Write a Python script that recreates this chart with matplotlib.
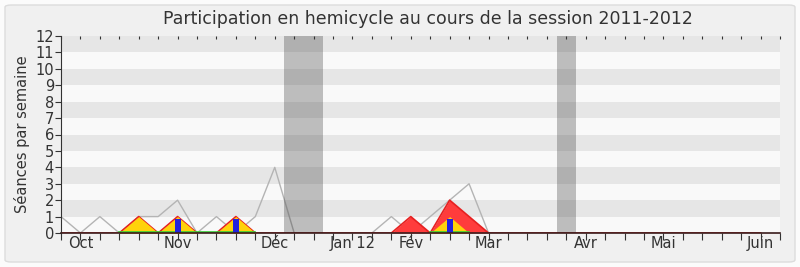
import numpy as np
import matplotlib
matplotlib.use("Agg")
import matplotlib.pyplot as plt
from matplotlib.patches import FancyBboxPatch

# Weekly values, weeks 0..36 of the session (week 0 = last week of September)
weeks = np.arange(37)
ensemble = [1, 0, 1, 0, 1, 1, 2, 0, 1, 0, 1, 4, 0, 0, 0, 0, 0, 1, 0, 1, 2, 3,
            0, 0, 0, 0, 0, 0, 0, 0, 0, 0, 0, 0, 0, 0, 0]
presences = [0, 0, 0, 0, 1, 0, 1, 0, 0, 1, 0, 0, 0, 0, 0, 0, 0, 0, 1, 0, 2, 1,
             0, 0, 0, 0, 0, 0, 0, 0, 0, 0, 0, 0, 0, 0, 0]
hemicycle = [0, 0, 0, 0, 1, 0, 1, 0, 0, 1, 0, 0, 0, 0, 0, 0, 0, 0, 0, 0, 1, 0,
             0, 0, 0, 0, 0, 0, 0, 0, 0, 0, 0, 0, 0, 0, 0]
interventions = [0, 0, 0, 0, 0, 0, 0.85, 0, 0, 0.85, 0, 0, 0, 0, 0, 0, 0, 0, 0, 0,
                 0.85, 0, 0, 0, 0, 0, 0, 0, 0, 0, 0, 0, 0, 0, 0, 0, 0]
vacances = [(11.5, 13.5), (25.5, 26.5)]
month_pos = [1, 6, 11, 15, 18, 22, 27, 31, 36]
month_labels = ["Oct", "Nov", "Déc", "Jan 12", "Fév", "Mar", "Avr", "Mai", "Juin"]

W, H = 800, 267
fig = plt.figure(figsize=(W / 100, H / 100), dpi=100, facecolor="#fbfbfb")
frame = FancyBboxPatch((5 / W, 5 / H), 790 / W, 257 / H,
                       boxstyle="round,pad=0,rounding_size=0.008",
                       transform=fig.transFigure, facecolor="#f0f0f0",
                       edgecolor="#dcdcdc", linewidth=1, zorder=-10)
fig.patches.append(frame)

ax = fig.add_axes([61 / W, 34 / H, 719 / W, 197 / H])
ax.set_zorder(1)
ax.set_facecolor("#f9f9f9")
ax.set_xlim(0, 37)
ax.set_ylim(0, 12)

# Alternating horizontal stripes
for y0 in range(1, 12, 2):
    ax.axhspan(y0, y0 + 1, color="#e6e6e6", lw=0, zorder=0)

# Reference line for all deputies
ax.plot(weeks, ensemble, color="#b4b4b4", lw=1, zorder=1)

# Stacked participation areas
pres = np.array(presences, float)
hemi = np.array(hemicycle, float)
ax.fill_between(weeks, 0, pres, color="#ff3c3c", lw=0, zorder=2)
ax.plot(weeks, pres, color="#e62020", lw=1.2, zorder=2.5)
ax.fill_between(weeks, 0, hemi, color="#ffd20a", lw=0, zorder=3)

# Thin green baseline under the hemicycle areas
support = (hemi > 0) | np.roll(hemi > 0, 1) | np.roll(hemi > 0, -1)
green = np.where(support, 0.06, np.nan)
ax.plot(weeks, green, color="#33cc33", lw=1.2, zorder=3.5)

# Interventions as narrow bars
ax.bar(weeks, interventions, width=0.31, color="#2222dd", lw=0, zorder=4)

# Holiday periods
for a, b in vacances:
    ax.axvspan(a, b, color="#333333", alpha=0.3, lw=0, zorder=5)

for s in ["top", "right"]:
    ax.spines[s].set_visible(False)
ax.spines["left"].set_color("#333333")
ax.spines["bottom"].set_color("#3a1c1c")
ax.spines["bottom"].set_linewidth(1.2)
ax.spines["left"].set_zorder(6)
ax.spines["bottom"].set_zorder(6)

ax.set_yticks(range(13))
ax.tick_params(axis="y", direction="out", length=4, color="#333333",
               labelsize=10.5, labelcolor="#333333", pad=1)

ax.xaxis.remove_overlapping_locs = False
ax.set_xticks(range(38))
ax.set_xticklabels([])
ax.set_xticks(month_pos, minor=True)
ax.set_xticklabels(month_labels, minor=True)
ax.tick_params(axis="x", which="major", direction="out", length=5,
               color="#333333")
ax.tick_params(axis="x", which="minor", length=0, labelsize=10.5,
               labelcolor="#333333", pad=2)

# Small inward week marks along the top edge
top = ax.secondary_xaxis("top")
top.set_xticks(range(38))
top.set_xticklabels([])
top.tick_params(direction="in", length=2, color="#333333")
top.spines["top"].set_visible(False)

ax.set_ylabel("Séances par semaine", fontsize=10.5, color="#333333", labelpad=4)
fig.text(428 / W, 1 - 19 / H, "Participation en hemicycle au cours de la session 2011-2012",
         ha="center", va="center", fontsize=12.5, color="#333333")

fig.savefig("out.png", dpi=100, facecolor=fig.get_facecolor())
